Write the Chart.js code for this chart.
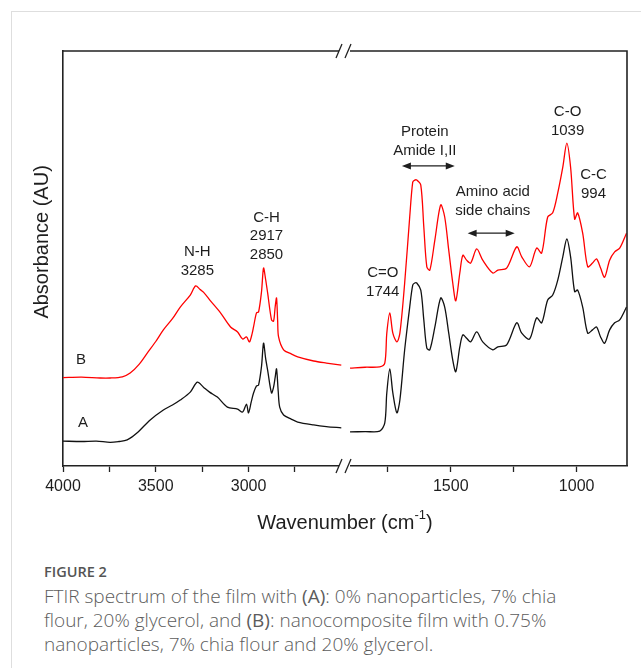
<!DOCTYPE html>
<html>
<head>
<meta charset="utf-8">
<script src="https://cdn.jsdelivr.net/npm/chart.js@4.4.0/dist/chart.umd.min.js"></script>
<style>
  html, body { margin: 0; padding: 0; background: #fff; }
  body { width: 641px; height: 668px; position: relative; overflow: hidden; }
  .card { position: absolute; left: 11px; top: 11px; right: -2px; bottom: -2px;
          border-left: 1px solid #dedede; border-top: 1px solid #dedede; }
  #wrap { position: absolute; left: 0; top: 0; width: 641px; height: 545px; }
  .caption { position: absolute; left: 44px; top: 562px; width: 597px;
             font-family: "Open Sans", sans-serif; color: #5c5c5c; }
  .caption .fig { font-size: 14.5px; font-weight: 600; line-height: 20px; color: #555; }
  .caption p { margin: 2px 0 0; font-size: 19px; line-height: 24px; font-weight: 300; white-space: nowrap; }
</style>
</head>
<body>
<div class="card"></div>
<div id="wrap"><canvas id="ftirChart"></canvas></div>
<div class="caption">
  <div class="fig">FIGURE 2</div>
  <p>FTIR spectrum of the film with <b>(A)</b>: 0% nanoparticles, 7% chia<br>flour, 20% glycerol, and <b>(B)</b>: nanocomposite film with 0.75%<br>nanoparticles, 7% chia flour and 20% glycerol.</p>
</div>
<script>
// wavenumbers (cm-1) and absorbance (arbitrary units, offset traces)
var waveLeftA = [4000, 3900, 3820, 3746, 3700, 3654, 3600, 3530, 3459, 3410, 3368, 3314, 3276, 3243, 3210, 3168, 3114, 3059, 3032, 3011, 3000, 2985, 2973, 2957, 2946, 2930, 2919, 2908, 2897, 2876, 2865, 2856, 2849, 2840, 2832, 2811, 2770, 2735, 2649, 2580, 2500];
var absLeftA = [6.0, 5.9, 6.0, 5.7, 5.9, 6.3, 8.0, 11.1, 13.5, 14.7, 15.9, 17.8, 20.2, 19.0, 17.8, 16.6, 14.2, 13.7, 13.0, 14.9, 12.8, 15.5, 17.6, 19.3, 19.5, 24.0, 29.6, 26.0, 23.1, 17.6, 19.0, 21.5, 23.4, 18.0, 14.2, 12.3, 11.3, 10.6, 9.9, 9.5, 9.2];

var waveLeftB = [4000, 3900, 3800, 3746, 3680, 3638, 3590, 3546, 3500, 3459, 3410, 3368, 3314, 3285, 3260, 3243, 3205, 3151, 3097, 3059, 3032, 3011, 2995, 2980, 2973, 2957, 2946, 2930, 2919, 2908, 2897, 2876, 2865, 2856, 2849, 2843, 2838, 2811, 2770, 2735, 2649, 2580, 2500];
var absLeftB = [21.3, 21.4, 21.2, 21.2, 21.5, 22.4, 24.5, 27.2, 30.0, 32.8, 35.5, 38.3, 41.2, 43.4, 42.5, 41.9, 39.8, 36.9, 33.5, 32.3, 30.6, 31.1, 29.9, 32.0, 33.5, 36.9, 37.1, 42.0, 47.7, 45.0, 41.7, 35.2, 34.9, 38.5, 40.5, 35.0, 31.1, 28.0, 27.0, 26.3, 25.3, 24.8, 24.3];

var waveRight = [1900, 1840, 1782, 1762, 1754, 1742, 1730, 1714, 1702, 1683, 1663, 1651, 1643, 1635, 1619, 1607, 1595, 1583, 1563, 1540, 1524, 1508, 1492, 1480, 1464, 1452, 1437, 1421, 1397, 1373, 1333, 1313, 1278, 1238, 1218, 1187, 1159, 1139, 1115, 1095, 1075, 1055, 1039, 1024, 1008, 996, 976, 956, 937, 921, 905, 889, 869, 849, 829, 802];
var absRightA = [8.2, 8.3, 8.4, 10.4, 17.6, 23.4, 17.6, 12.8, 15.9, 28.0, 38.3, 43.6, 44.1, 44.1, 42.4, 35.2, 28.4, 28.0, 33.5, 40.5, 38.3, 32.0, 25.5, 22.7, 28.7, 31.6, 30.8, 29.9, 32.3, 29.9, 28.0, 28.7, 29.2, 34.5, 32.0, 30.6, 35.7, 34.5, 40.0, 41.2, 44.8, 50.4, 54.7, 50.4, 42.0, 42.4, 38.3, 32.0, 32.8, 33.5, 31.1, 29.6, 32.8, 34.5, 35.2, 38.3];
var absRightB = [23.6, 23.8, 23.9, 24.8, 32.0, 36.9, 32.0, 29.9, 32.0, 44.1, 60.0, 68.4, 68.9, 68.9, 67.7, 57.6, 48.0, 47.2, 54.5, 62.9, 60.0, 52.0, 44.1, 39.8, 46.5, 50.8, 49.6, 48.9, 52.3, 49.6, 46.5, 47.2, 47.7, 52.8, 50.4, 48.0, 52.5, 51.3, 60.0, 61.0, 65.8, 72.0, 77.8, 72.0, 59.5, 61.0, 56.1, 48.0, 48.9, 49.9, 47.7, 45.5, 49.6, 51.6, 52.5, 56.1];

var ticksLeft = [4000, 3750, 3500, 3250, 3000, 2750];
var ticksRight = [1750, 1500, 1250, 1000];

// peak annotations, placed in data coordinates
var labelNotes = [
  {axis: 'xL', w: 3276, y: 51.6, lines: ['N-H', '3285']},
  {axis: 'xL', w: 2903, y: 59.8, lines: ['C-H', '2917', '2850']},
  {axis: 'xR', w: 1770, y: 46.5, lines: ['C=O', '1744']},
  {axis: 'xR', w: 1603, y: 80.5, lines: ['Protein', 'Amide I,II']},
  {axis: 'xR', w: 1333, y: 66.0, lines: ['Amino acid', 'side chains']},
  {axis: 'xR', w: 1036, y: 85.3, lines: ['C-O', '1039']},
  {axis: 'xR', w: 933, y: 70.1, lines: ['C-C', '994']},
  {axis: 'xL', w: 3903, y: 25.5, lines: ['B']},
  {axis: 'xL', w: 3892, y: 10.4, lines: ['A']}
];
var arrowNotes = [
  {w1: 1694, w2: 1484, y: 72.3},
  {w1: 1433, w2: 1246, y: 56.1}
];

function pts(xs, ys) {
  return xs.map(function (x, i) { return {x: x, y: ys[i]}; });
}

var FONT = '"Liberation Sans", Arial, sans-serif';
var INK = '#1e1e1e';

function line(label, data, axis, color) {
  return {
    label: label,
    data: data,
    xAxisID: axis,
    yAxisID: 'y',
    borderColor: color,
    borderWidth: 1.3,
    pointRadius: 0,
    tension: 0.3,
    fill: false
  };
}

function xAxis(min, max, tickVals) {
  return {
    type: 'linear',
    position: 'bottom',
    stack: 'wn',
    stackWeight: 1,
    reverse: true,
    min: min,
    max: max,
    afterBuildTicks: function (ax) {
      ax.ticks = tickVals.map(function (v) { return {value: v}; });
    },
    afterFit: function (ax) { ax.height = 79; },
    ticks: {
      padding: 5,
      maxRotation: 0,
      autoSkip: false,
      color: INK,
      font: {family: FONT, size: 16},
      callback: function (v) { return v % 500 === 0 ? String(v) : ''; }
    },
    grid: {drawOnChartArea: false, drawTicks: true, tickLength: 6, tickWidth: 1.3, color: '#222'},
    border: {display: true, color: '#222', width: 1.6}
  };
}

var decor = {
  id: 'decor',
  afterDraw: function (chart) {
    var ctx = chart.ctx, a = chart.chartArea;
    var xL = chart.scales.xL, xR = chart.scales.xR, ys = chart.scales.y;
    ctx.save();
    // top and right frame
    ctx.strokeStyle = '#222';
    ctx.lineWidth = 1.6;
    ctx.beginPath();
    ctx.moveTo(a.left, a.top);
    ctx.lineTo(a.right, a.top);
    ctx.lineTo(a.right, a.bottom);
    ctx.stroke();

    // axis break marks
    var bx = xL.right;
    [a.top, a.bottom].forEach(function (by) {
      ctx.fillStyle = '#fff';
      ctx.fillRect(bx - 6, by - 2, 11, 4);
      ctx.strokeStyle = '#222';
      ctx.lineWidth = 1.3;
      ctx.beginPath();
      ctx.moveTo(bx - 9, by + 7); ctx.lineTo(bx - 3, by - 7);
      ctx.moveTo(bx, by + 7); ctx.lineTo(bx + 6, by - 7);
      ctx.stroke();
    });

    // peak labels
    ctx.fillStyle = INK;
    ctx.font = '15px ' + FONT;
    ctx.textAlign = 'center';
    ctx.textBaseline = 'middle';
    labelNotes.forEach(function (n) {
      var sc = chart.scales[n.axis];
      var px = sc.getPixelForValue(n.w), py = ys.getPixelForValue(n.y);
      n.lines.forEach(function (t, i) { ctx.fillText(t, px, py + i * 18.5); });
    });

    // double-headed arrows
    ctx.strokeStyle = INK;
    ctx.lineWidth = 1.2;
    arrowNotes.forEach(function (n) {
      var x1 = xR.getPixelForValue(n.w1), x2 = xR.getPixelForValue(n.w2), py = ys.getPixelForValue(n.y);
      ctx.beginPath();
      ctx.moveTo(x1 + 4, py); ctx.lineTo(x2 - 4, py);
      ctx.stroke();
      ctx.beginPath();
      ctx.moveTo(x1, py); ctx.lineTo(x1 + 9, py - 3.5); ctx.lineTo(x1 + 9, py + 3.5); ctx.closePath();
      ctx.moveTo(x2, py); ctx.lineTo(x2 - 9, py - 3.5); ctx.lineTo(x2 - 9, py + 3.5); ctx.closePath();
      ctx.fill();
    });

    // axis titles
    ctx.font = '20px ' + FONT;
    ctx.save();
    ctx.translate(42, ys.getPixelForValue(54));
    ctx.rotate(-Math.PI / 2);
    ctx.fillText('Absorbance (AU)', 0, 0);
    ctx.restore();

    var t1 = 'Wavenumber (cm', t2 = '-1', t3 = ')';
    ctx.font = '20px ' + FONT;
    var w1 = ctx.measureText(t1).width, w3 = ctx.measureText(t3).width;
    ctx.font = '13px ' + FONT;
    var w2 = ctx.measureText(t2).width;
    var cx = (a.left + a.right) / 2, ty = a.bottom + 57;
    var sx = cx - (w1 + w2 + w3) / 2;
    ctx.textAlign = 'left';
    ctx.font = '20px ' + FONT;
    ctx.fillText(t1, sx, ty);
    ctx.font = '13px ' + FONT;
    ctx.fillText(t2, sx + w1, ty - 8);
    ctx.font = '20px ' + FONT;
    ctx.fillText(t3, sx + w1 + w2, ty);
    ctx.restore();
  }
};

new Chart(document.getElementById('ftirChart'), {
  type: 'line',
  data: {
    datasets: [
      line('A', pts(waveLeftA, absLeftA), 'xL', '#111'),
      line('A', pts(waveRight, absRightA), 'xR', '#111'),
      line('B', pts(waveLeftB, absLeftB), 'xL', '#ff0000'),
      line('B', pts(waveRight, absRightB), 'xR', '#ff0000')
    ]
  },
  options: {
    responsive: true,
    maintainAspectRatio: false,
    animation: false,
    parsing: false,
    layout: {padding: {top: 51, right: 14, bottom: 0, left: 0}},
    plugins: {legend: {display: false}, tooltip: {enabled: false}},
    scales: {
      xL: xAxis(2480, 4000, ticksLeft),
      xR: xAxis(800, 1920, ticksRight),
      y: {
        min: 0,
        max: 100,
        ticks: {display: false},
        grid: {display: false},
        border: {display: true, color: '#222', width: 1.6},
        afterFit: function (ax) { ax.width = 63; }
      }
    }
  },
  plugins: [decor]
});
</script>
</body>
</html>
